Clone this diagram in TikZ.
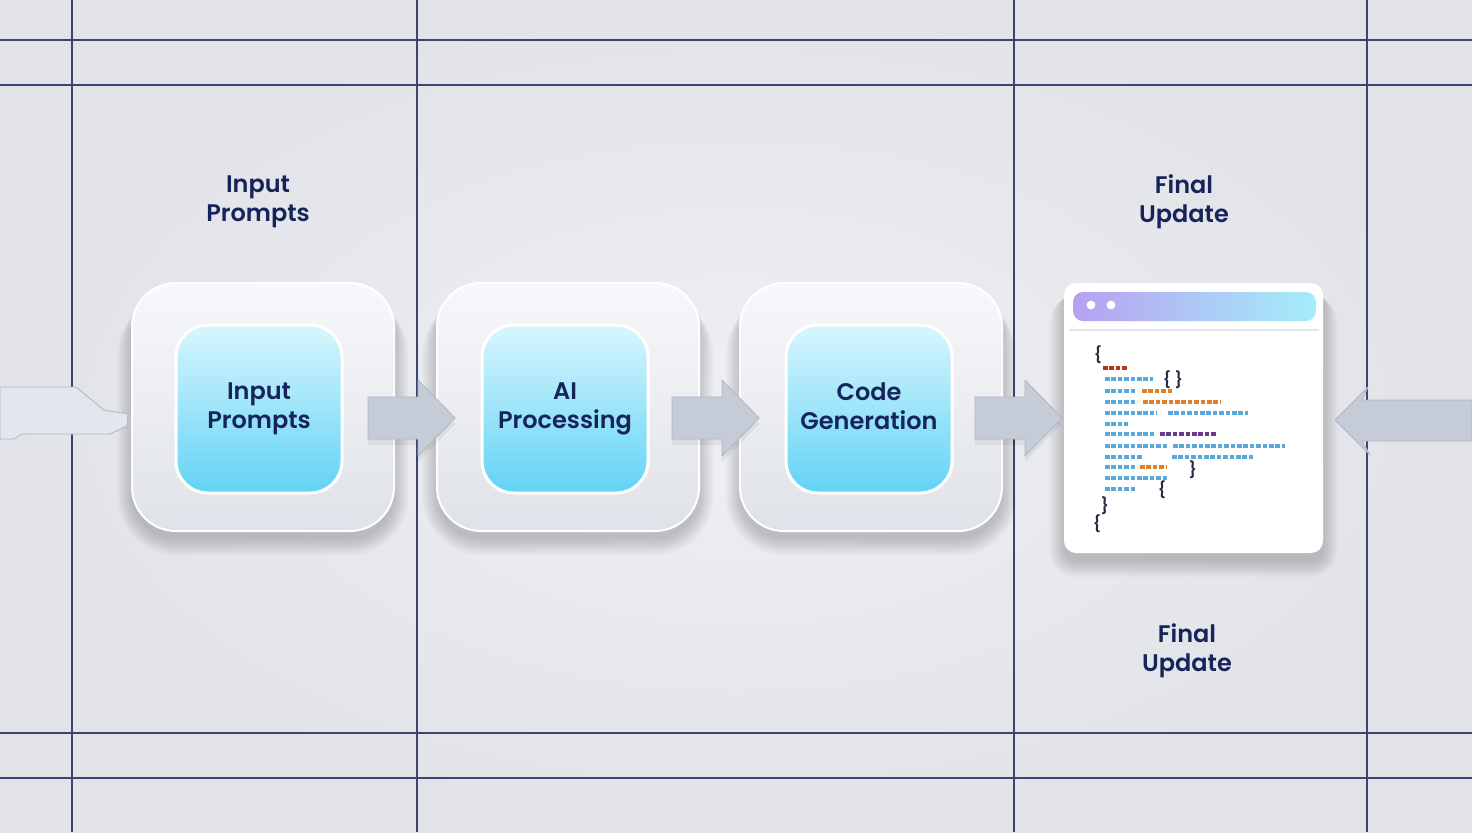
\documentclass[tikz,border=0pt]{standalone}
\usepackage{fontspec}
\setmainfont{Poppins}[BoldFont={* SemiBold}]
\usetikzlibrary{calc}
\definecolor{bgo}{HTML}{E1E3E8}
\definecolor{bgi}{HTML}{EFF0F3}
\definecolor{gridc}{HTML}{3C4572}
\definecolor{navy}{HTML}{15255A}
\definecolor{arrowc}{HTML}{C6CCD7}
\definecolor{arrowd}{HTML}{AEB5C3}
\definecolor{cb}{HTML}{5AA9DD}
\definecolor{co}{HTML}{E0802A}
\definecolor{cp}{HTML}{6A3A8A}
\definecolor{cr}{HTML}{B5361E}
\definecolor{cd}{HTML}{2A2A40}
\definecolor{outtop}{HTML}{F7F8FA}
\definecolor{outbot}{HTML}{DFE2E8}
\definecolor{intop}{HTML}{D8F6FD}
\definecolor{inmid}{HTML}{B3ECFB}
\definecolor{inbot}{HTML}{62D3F5}
\definecolor{bartl}{HTML}{B7A0F0}
\definecolor{bartr}{HTML}{A4EEFA}
\definecolor{sepc}{HTML}{E3E5EA}
\tikzset{
  gridline/.style={gridc, line width=0.6pt},
  outerbox/.style={rounded corners=22pt, minimum width=131pt, minimum height=124pt,
    top color=outtop, bottom color=outbot, draw=white, line width=1pt},
  innerbox/.style={rounded corners=16pt, minimum width=83pt, minimum height=84pt,
    top color=intop, middle color=inmid, bottom color=inbot, draw=white, line width=1.5pt,
    font=\bfseries\fontsize{12}{14.5}\selectfont, text=navy, align=center},
  label/.style={font=\bfseries\fontsize{12}{14.5}\selectfont, text=navy, align=center},
  blockarrow/.style={fill=arrowc, draw=arrowd, line width=0.4pt, line join=round},
  codeseg/.style={line width=2.1pt, dash pattern=on 2.3pt off 0.9pt},
  brace/.style={font=\fontsize{8}{8}\selectfont\bfseries, text=cd, inner sep=0pt},
  shadowlayer/.style={black, opacity=0.02},
}
\newcommand{\cseg}[4]{\draw[codeseg,#4] (#1,#3) -- (#2,#3);}
% soft shadow: centre x, centre y, half width, half height (px), corner radius (pt)
\newcommand{\shbox}[5]{%
  \foreach \k in {0,...,9}{%
    \pgfmathsetmacro{\rr}{#5+\k*0.8}%
    \fill[shadowlayer, rounded corners=\rr pt] (#1-#3-\k*1.6, #2-#4+8+\k*0.6) rectangle (#1+#3+\k*1.6, #2+#4+8+\k*1.8);
  }}
\begin{document}
\begin{tikzpicture}[x=0.5pt,y=-0.5pt]
\shade[inner color=bgi, outer color=bgo] (0,0) rectangle (1472,832);
\useasboundingbox (0,0) rectangle (1472,832);
% grid
\foreach \gx in {72,417,1014,1367} \draw[gridline] (\gx,0) -- (\gx,832);
\foreach \gy in {40,85,733,778} \draw[gridline] (0,\gy) -- (1472,\gy);

% shadows
\shbox{263}{407}{131}{124}{22}
\shbox{568}{407}{131}{124}{22}
\shbox{871}{407}{131}{124}{22}
\shbox{1193.5}{418}{129.5}{135}{6}

% side arrows
\path[blockarrow, fill=outtop!60!arrowc] (0,387) -- (76,387) -- (104,410) -- (128,414) -- (127,426) -- (110,434) -- (22,434) -- (14,439) -- (0,439) -- cycle;
\path[blockarrow] (1472,400) -- (1362,400) -- (1368,387) -- (1335,420) -- (1370,455) -- (1362,441) -- (1472,441) -- cycle;

% outer boxes
\node[outerbox] (o1) at (263,407) {};
\node[outerbox] (o2) at (568,407) {};
\node[outerbox] (o3) at (871,407) {};

% inner boxes
\node[innerbox] (i1) at (259,409) {Input\\Prompts};
\node[innerbox] (i2) at (565,409) {AI\\Processing};
\node[innerbox] (i3) at (869,409) {Code\\Generation\vphantom{g}};

% connectors between boxes
\foreach \ax in {368,672,975}{
  \fill[black, opacity=0.06] (\ax,403) -- (\ax+50,403) -- (\ax+50,386) -- (\ax+87,424) -- (\ax+50,462) -- (\ax+50,445) -- (\ax,445) -- cycle;
  \path[blockarrow] (\ax,397) -- (\ax+50,397) -- (\ax+50,380) -- (\ax+87,418) -- (\ax+50,456) -- (\ax+50,439) -- (\ax,439) -- cycle;
}

% labels
\node[label] (l1) at (258,202) {Input\\Prompts};
\node[label] (l2) at (1184,202) {Final\\Update};
\node[label] (l3) at (1187,651) {Final\\Update};

% code window
\node[rounded corners=6pt, fill=white, minimum width=129.5pt, minimum height=135pt] (win) at (1193.5,418) {};
\path[left color=bartl, right color=bartr, rounded corners=5pt] (1073,292) rectangle (1316,321);
\fill[white] (1091,305) circle (2.2pt);
\fill[white] (1111,305) circle (2.2pt);
\draw[sepc, line width=0.6pt] (1069,330) -- (1319,330);

\node[brace] (b1) at (1098,355) {\{};
\cseg{1103}{1128}{368}{cr}
\cseg{1105}{1153}{379}{cb}
\node[brace] (b2) at (1173,380) {\{ \}};
\cseg{1105}{1135}{391}{cb}
\cseg{1142}{1173}{391}{co}
\cseg{1105}{1137}{402}{cb}
\cseg{1143}{1220}{402}{co}
\cseg{1105}{1157}{413}{cb}
\cseg{1168}{1248}{413}{cb}
\cseg{1105}{1128}{424}{cb}
\cseg{1105}{1155}{434}{cb}
\cseg{1160}{1217}{434}{cp}
\cseg{1105}{1167}{446}{cb}
\cseg{1173}{1285}{446}{cb}
\cseg{1105}{1143}{457}{cb}
\cseg{1172}{1255}{457}{cb}
\cseg{1105}{1137}{467}{cb}
\cseg{1140}{1167}{467}{co}
\node[brace] (b3) at (1193,470) {\}};
\cseg{1105}{1167}{478}{cb}
\cseg{1105}{1135}{489}{cb}
\node[brace] (b4) at (1162,490) {\{};
\node[brace] (b5) at (1105,506) {\}};
\node[brace] (b6) at (1097,524) {\{};
\end{tikzpicture}
\end{document}
